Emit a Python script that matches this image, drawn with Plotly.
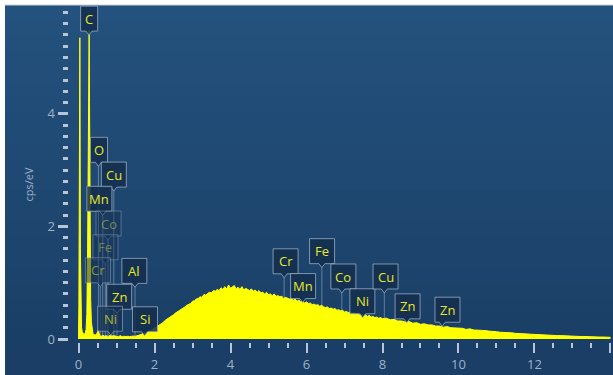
import numpy as np
import plotly.graph_objects as go

# ---- EDS spectrum (energy in keV, intensity in cps/eV) ----
low_energy = [0.00, 0.01, 0.02, 0.03, 0.035, 0.04, 0.05, 0.06, 0.08, 0.10, 0.12, 0.14, 0.16,
              0.18, 0.20, 0.22, 0.24, 0.25, 0.26, 0.27, 0.28, 0.29, 0.30, 0.31, 0.32, 0.34,
              0.36, 0.38, 0.40, 0.44, 0.48, 0.50, 0.52, 0.53, 0.54, 0.56, 0.60, 0.64, 0.68,
              0.72, 0.76, 0.80, 0.84, 0.88, 0.92, 0.96, 1.00, 1.05, 1.10, 1.15, 1.20, 1.25,
              1.30, 1.35, 1.40, 1.45]
low_counts = [0.0, 0.6, 2.4, 4.6, 5.35, 4.4, 1.6, 0.45, 0.2, 0.13, 0.09, 0.08, 0.09,
              0.11, 0.17, 0.45, 1.6, 3.2, 4.8, 5.42, 5.48, 4.2, 2.6, 1.4, 0.7, 0.3,
              0.15, 0.1, 0.08, 0.07, 0.09, 0.12, 0.16, 0.13, 0.09, 0.06, 0.05, 0.07, 0.05,
              0.06, 0.05, 0.05, 0.07, 0.05, 0.06, 0.05, 0.05, 0.04, 0.06, 0.04, 0.05, 0.04,
              0.05, 0.04, 0.05, 0.05]

# Bremsstrahlung continuum, 1.5-2.4 keV (0.1 keV steps)
rise_energy = [round(1.5 + 0.1 * i, 2) for i in range(10)]
rise_counts = [0.05, 0.07, 0.09, 0.12, 0.15, 0.19, 0.24, 0.28, 0.34, 0.38]

# continuum hump, 2.5-8.0 keV (0.05 keV steps)
hump_energy = [round(2.5 + 0.05 * i, 2) for i in range(111)]
hump_counts = [
    0.43, 0.46, 0.48, 0.50, 0.53, 0.55, 0.57, 0.60, 0.62, 0.63,
    0.67, 0.68, 0.71, 0.72, 0.75, 0.74, 0.79, 0.78, 0.81, 0.83,
    0.82, 0.86, 0.85, 0.88, 0.86, 0.91, 0.88, 0.93, 0.89, 0.96,
    0.90, 0.92, 0.95, 0.89, 0.92, 0.88, 0.93, 0.87, 0.90, 0.88,
    0.86, 0.89, 0.85, 0.87, 0.83, 0.86, 0.82, 0.83, 0.80, 0.83,
    0.79, 0.80, 0.77, 0.80, 0.76, 0.77, 0.75, 0.76, 0.72, 0.74,
    0.73, 0.71, 0.72, 0.69, 0.71, 0.67, 0.69, 0.66, 0.67, 0.64,
    0.66, 0.63, 0.64, 0.61, 0.62, 0.60, 0.61, 0.58, 0.60, 0.57,
    0.56, 0.57, 0.54, 0.55, 0.53, 0.54, 0.51, 0.52, 0.50, 0.51,
    0.48, 0.49, 0.47, 0.48, 0.45, 0.47, 0.44, 0.45, 0.43, 0.44,
    0.42, 0.43, 0.40, 0.42, 0.39, 0.40, 0.38, 0.39, 0.37, 0.38,
    0.36,
]

# high-energy tail, 8.1-14.0 keV (0.1 keV steps)
tail_energy = [round(8.1 + 0.1 * i, 2) for i in range(60)]
tail_counts = [
    0.37, 0.34, 0.35, 0.32,
    0.32, 0.30, 0.31, 0.28, 0.29, 0.26, 0.27, 0.25, 0.25, 0.23,
    0.23, 0.21, 0.22, 0.20, 0.20, 0.19, 0.19, 0.17, 0.18, 0.16,
    0.16, 0.15, 0.15, 0.14, 0.14, 0.13, 0.12, 0.12, 0.11, 0.11,
    0.10, 0.10, 0.09, 0.09, 0.085, 0.08, 0.075, 0.075, 0.07, 0.065,
    0.065, 0.06, 0.06, 0.055, 0.05, 0.05, 0.05, 0.045, 0.045, 0.04,
    0.04, 0.04, 0.035, 0.035, 0.035, 0.03,
]

energy = low_energy + rise_energy + hump_energy + tail_energy
counts = low_counts + rise_counts + hump_counts + tail_counts

# ---- element labels: text, line energy (keV), label centre (keV, cps), opacity ----
label_text = ["C", "O", "Cu", "Mn", "Co", "Fe", "Cr", "Al", "Zn", "Ni", "Si",
              "Cr", "Mn", "Fe", "Co", "Ni", "Cu", "Zn", "Zn"]
label_line = [0.277, 0.525, 0.930, 0.637, 0.776, 0.705, 0.573, 1.487, 1.012, 0.851, 1.740,
              5.411, 5.899, 6.404, 6.930, 7.478, 8.048, 8.639, 9.572]
label_x = [0.28, 0.54, 0.93, 0.55, 0.79, 0.71, 0.51, 1.47, 1.07, 0.83, 1.75,
           5.45, 5.91, 6.41, 6.97, 7.47, 8.08, 8.66, 9.71]
label_y = [5.69, 3.36, 2.92, 2.49, 2.05, 1.63, 1.22, 1.21, 0.75, 0.36, 0.35,
           1.38, 0.94, 1.56, 1.11, 0.67, 1.11, 0.58, 0.52]
label_alpha = [1, 1, 1, 1, 0.45, 0.4, 0.55, 1, 1, 0.7, 1,
               1, 1, 1, 1, 1, 1, 1, 1]

# ---- geometry ----
W, H = 613, 375
X_RANGE = [-0.1, 14.066]
Y_RANGE = [0, 5.932]
x_dom = [74.7 / W, 1.0]
y_dom = [36 / H, 370 / H]
kev_per_px = (X_RANGE[1] - X_RANGE[0]) / ((x_dom[1] - x_dom[0]) * W)
cps_per_px = (Y_RANGE[1] - Y_RANGE[0]) / ((y_dom[1] - y_dom[0]) * H)

fig = go.Figure()

# background: white frame with a vertical blue gradient panel
shapes = []
n_bands = 24
top_rgb = np.array([36, 82, 126])
bot_rgb = np.array([26, 62, 101])
panel_top = 370 / H
for i in range(n_bands):
    t = i / (n_bands - 1)
    c = (top_rgb * (1 - t) + bot_rgb * t).astype(int)
    y1 = panel_top * (1 - i / n_bands)
    y0 = panel_top * (1 - (i + 1) / n_bands)
    shapes.append(dict(type="rect", xref="paper", yref="paper", layer="below",
                       x0=5 / W, x1=1.0, y0=y0 - 0.002, y1=y1,
                       fillcolor=f"rgb({c[0]},{c[1]},{c[2]})", line_width=0))
shapes.append(dict(type="line", xref="paper", yref="paper", layer="below",
                   x0=5 / W, x1=1.0, y0=panel_top, y1=panel_top,
                   line=dict(color="#c9ced6", width=1)))

# spectrum
fig.add_trace(go.Scatter(
    x=energy, y=counts, mode="lines", fill="tozeroy",
    line=dict(color="#ffff1a", width=1), fillcolor="#ffff00",
    hoverinfo="skip", showlegend=False,
))

annotations = []
box_h = 25 * cps_per_px
notch_h = 4 * cps_per_px
notch_w = 3 * kev_per_px
for txt, e, cx, cy, a in zip(label_text, label_line, label_x, label_y, label_alpha):
    bw = (9 + 8 * len(txt)) * kev_per_px
    x0, x1 = cx - bw / 2, cx + bw / 2
    y0, y1 = cy - box_h / 2, cy + box_h / 2
    nx = min(max(e, x0 + notch_w), x1 - notch_w)
    tip = y0 - notch_h
    path = (f"M {x0},{y1} L {x1},{y1} L {x1},{y0} L {nx + notch_w},{y0} "
            f"L {nx},{tip} L {nx - notch_w},{y0} L {x0},{y0} Z")
    shapes.append(dict(type="path", path=path, xref="x", yref="y",
                       fillcolor=f"rgba(20,46,78,{0.75 * a + 0.1:.2f})",
                       line=dict(color=f"rgba(170,188,206,{0.55 * a + 0.15:.2f})", width=1)))
    peak = float(np.interp(e, energy, counts))
    if tip > peak:
        shapes.append(dict(type="line", xref="x", yref="y", x0=nx, x1=e, y0=tip, y1=peak,
                           line=dict(color="rgba(185,200,215,0.45)", width=1)))
    annotations.append(dict(x=cx, y=cy, xref="x", yref="y", text=txt, showarrow=False,
                            font=dict(family="Open Sans, sans-serif", size=13,
                                      color=f"rgba(232,232,40,{a})")))

# y-axis title
annotations.append(dict(x=18 / W, y=1 - 185 / H, xref="paper", yref="paper",
                        text="cps/eV", showarrow=False, textangle=-90,
                        font=dict(family="Open Sans, sans-serif", size=11, color="#9fb2c6")))

tick_col = "#b7c6d6"
tick_font = dict(family="Open Sans, sans-serif", size=13, color="#9fb2c6")
fig.update_layout(
    template="none",
    width=W, height=H, autosize=False,
    margin=dict(l=0, r=0, t=0, b=0, autoexpand=False),
    paper_bgcolor="white", plot_bgcolor="rgba(0,0,0,0)",
    shapes=shapes, annotations=annotations,
    xaxis=dict(domain=x_dom, range=X_RANGE, anchor="free", position=1 - 342 / H,
               automargin=False,
               tickvals=[0, 2, 4, 6, 8, 10, 12, 14], ticks="outside", ticklen=10,
               tickwidth=2, tickcolor=tick_col, showgrid=False, zeroline=False,
               showline=False, fixedrange=True, tickfont=tick_font,
               minor=dict(dtick=0.5, tick0=0, ticks="outside", ticklen=5, tickwidth=2,
                          tickcolor=tick_col, showgrid=False)),
    yaxis=dict(domain=y_dom, range=Y_RANGE, anchor="free", position=67.5 / W,
               automargin=False,
               tickvals=[0, 2, 4], ticks="outside", ticklen=10, tickwidth=3,
               tickcolor=tick_col, showgrid=False, zeroline=False, showline=False,
               fixedrange=True, tickfont=tick_font,
               minor=dict(dtick=0.2, tick0=0, ticks="outside", ticklen=5, tickwidth=3,
                          tickcolor=tick_col, showgrid=False)),
)

fig.write_html("out.html")
